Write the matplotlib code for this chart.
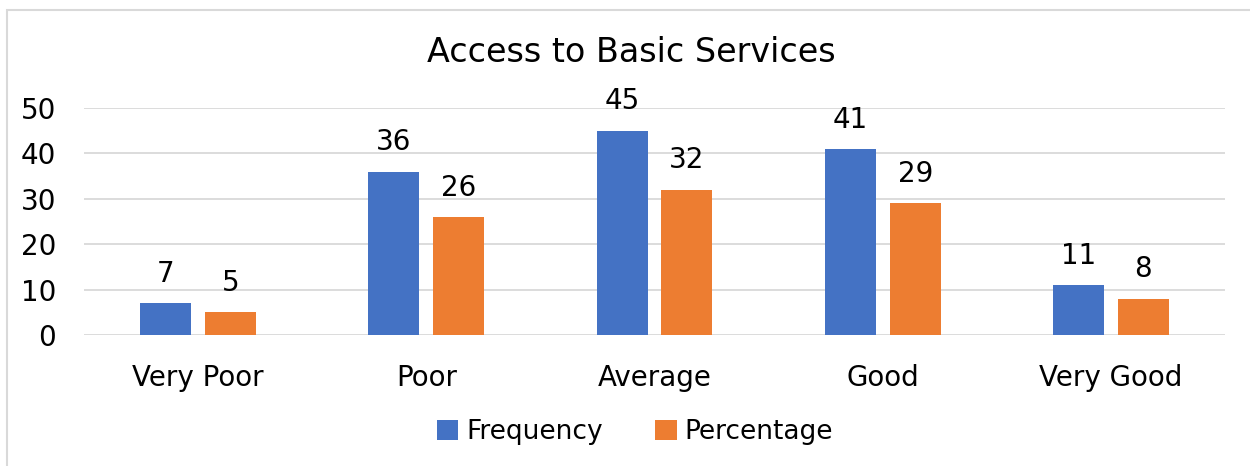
import matplotlib
matplotlib.use("Agg")
import matplotlib.pyplot as plt
from matplotlib.patches import Rectangle
import numpy as np

categories = ["Very Poor", "Poor", "Average", "Good", "Very Good"]
frequency = [7, 36, 45, 41, 11]
percentage = [5, 26, 32, 29, 8]
y_ticks = [0, 10, 20, 30, 40, 50]

BLUE = "#4472C4"
ORANGE = "#ED7D31"
GRID = "#D9D9D9"
TEXT = "#000000"

plt.rcParams["font.family"] = ["DejaVu Sans"]

fig = plt.figure(figsize=(12.5, 4.66), dpi=100)
W, H = 1250, 466

# chart frame
fig.patches.append(Rectangle((7 / W, -0.01), 1.0, 1 - 10 / H + 0.01,
                             transform=fig.transFigure, fill=False,
                             edgecolor="#D9D9D9", linewidth=1.5))

ax = fig.add_axes([84 / W, 1 - 335 / H, (1225 - 84) / W, (335 - 108) / H])

x = np.arange(len(categories))
bw = 0.2235
off = 0.1424
b1 = ax.bar(x - off, frequency, bw, color=BLUE, label="Frequency", zorder=3)
b2 = ax.bar(x + off, percentage, bw, color=ORANGE, label="Percentage", zorder=3)

fs = 20
for bars, vals in ((b1, frequency), (b2, percentage)):
    for rect, v in zip(bars, vals):
        ax.annotate(f"{v}", (rect.get_x() + rect.get_width() / 2, v),
                    xytext=(0, 11), textcoords="offset points",
                    ha="center", va="bottom", fontsize=fs, color=TEXT)

ax.set_xlim(-0.5, len(categories) - 0.5)
ax.set_ylim(0, 50)
ax.set_yticks(y_ticks)
ax.set_xticks(x)
ax.set_xticklabels(categories)
ax.tick_params(axis="both", length=0, labelsize=fs, colors=TEXT)
ax.tick_params(axis="y", pad=20)
ax.tick_params(axis="x", pad=21)
ax.grid(axis="y", color=GRID, linewidth=1.3, zorder=0)
for s in ax.spines.values():
    s.set_visible(False)

fig.text(0.505, 1 - 52 / H, "Access to Basic Services", ha="center",
         va="center", fontsize=24, color=TEXT)

leg = fig.legend(handles=[b1, b2], loc="center", bbox_to_anchor=(0.508, 1 - 432 / H),
                 ncol=2, frameon=False, fontsize=19, handlelength=0.8,
                 handleheight=0.8, handletextpad=0.3, columnspacing=2.0)

fig.savefig("out.png", dpi=100)
